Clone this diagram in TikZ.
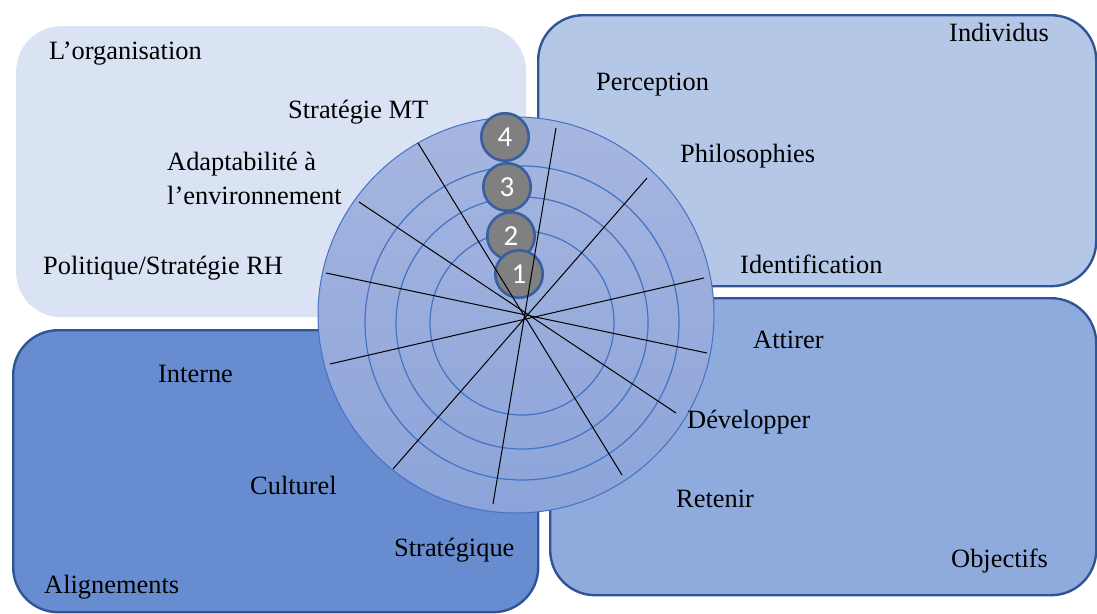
\documentclass[tikz,border=0pt]{standalone}
\usepackage{fontspec}
\setmainfont{Liberation Serif}
\newfontfamily\numfont{Carlito}
\definecolor{outl}{HTML}{2F5597}
\definecolor{boxA}{HTML}{DAE3F3}
\definecolor{boxB}{HTML}{B4C7E7}
\definecolor{boxC}{HTML}{8FAADC}
\definecolor{boxD}{RGB}{103,140,207}
\definecolor{ringblue}{HTML}{4472C4}
\definecolor{wheeltop}{HTML}{A6B6E0}
\definecolor{wheelbot}{HTML}{8CA4D9}
\definecolor{numgray}{HTML}{808080}
\definecolor{numedge}{HTML}{3A5F9E}
\begin{document}
\begin{tikzpicture}[x=1pt,y=-1pt,
  lbl/.style={anchor=base west, font=\fontsize{26.4}{30}\selectfont, inner sep=0pt},
  panel/.style={rounded corners=45pt, anchor=north west, inner sep=0pt},
  edged/.style={draw=outl, line width=2.4pt},
  num/.style={circle, fill=numgray, draw=numedge, line width=2.6pt, minimum size=47.5pt, inner sep=0pt, text=white, font=\numfont\fontsize{29}{30}\selectfont},
  spoke/.style={draw=black, line width=1pt},
  ring/.style={draw=ringblue, line width=1.2pt}]
\useasboundingbox (0,0) rectangle (1097,613);
% panels
\node[panel, fill=boxA, minimum width=510pt, minimum height=291pt] (org) at (16,26) {};
\node[panel, edged, fill=boxB, minimum width=558pt, minimum height=271pt] (ind) at (537,14) {};
\node[panel, edged, fill=boxC, minimum width=546pt, minimum height=297pt] (obj) at (549,297) {};
\node[panel, edged, fill=boxD, minimum width=525pt, minimum height=282pt] (ali) at (12,329) {};
% wheel
\node[circle, minimum size=396pt, inner sep=0pt, draw=ringblue, line width=1pt, top color=wheeltop, bottom color=wheelbot] (wheel) at (516,315) {};
\coordinate (rc) at (522,323);
\node[circle, ring, minimum size=184pt, inner sep=0pt] (r1) at (rc) {};
\node[circle, ring, minimum size=252pt, inner sep=0pt] (r2) at (rc) {};
\node[circle, ring, minimum size=314pt, inner sep=0pt] (r3) at (rc) {};
% numbered discs
\node[num] (n4) at (505,137) {4};
\node[num] (n3) at (507,187) {3};
\node[num] (n2) at (511,236) {2};
\node[num] (n1) at (519,274) {1};
% spokes
\coordinate (a1) at (556,128); \coordinate (b1) at (493,504);
\coordinate (a2) at (418,143); \coordinate (b2) at (622,475);
\coordinate (a3) at (647,178); \coordinate (b3) at (393,469);
\coordinate (a4) at (359,202); \coordinate (b4) at (676,413);
\coordinate (a5) at (326,273); \coordinate (b5) at (707,353);
\coordinate (a6) at (704,278); \coordinate (b6) at (330,364);
\foreach \i in {1,...,6} {\draw[spoke] (a\i) -- (b\i);}
% labels
\node[lbl] (t1) at (49,59) {L’organisation};
\node[lbl] (t2) at (288,118) {Stratégie MT};
\node[lbl] (t3) at (167,170) {Adaptabilité à};
\node[lbl] (t4) at (167,204) {l’environnement};
\node[lbl] (t5) at (43,274) {Politique/Stratégie RH};
\node[lbl] (t6) at (949,41) {Individus};
\node[lbl] (t7) at (596,90) {Perception};
\node[lbl] (t8) at (680,162) {Philosophies};
\node[lbl] (t9) at (740,273) {Identification};
\node[lbl] (t10) at (753,348) {Attirer};
\node[lbl] (t11) at (687,428) {Développer};
\node[lbl] (t12) at (676,507) {Retenir};
\node[lbl] (t13) at (951,567) {Objectifs};
\node[lbl] (t14) at (158,382) {Interne};
\node[lbl] (t15) at (250,494) {Culturel};
\node[lbl] (t16) at (394,556) {Stratégique};
\node[lbl] (t17) at (44,593) {Alignements};
\end{tikzpicture}
\end{document}
